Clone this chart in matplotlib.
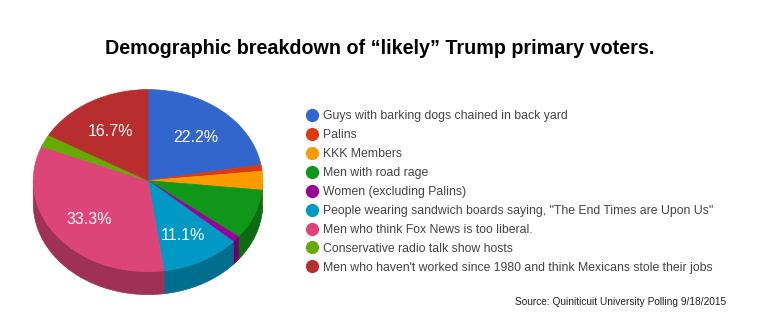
import numpy as np
import matplotlib
matplotlib.use('Agg')
import matplotlib.pyplot as plt
from matplotlib.lines import Line2D
from matplotlib.patches import Polygon
from matplotlib import font_manager, colors as mcolors

# Data (counts; shown as percentages)
categories = [
    'Guys with barking dogs chained in back yard',
    'Palins',
    'KKK Members',
    'Men with road rage',
    'Women (excluding Palins)',
    'People wearing sandwich boards saying, "The End Times are Upon Us"',
    'Men who think Fox News is too liberal.',
    'Conservative radio talk show hosts',
    "Men who haven't worked since 1980 and think Mexicans stole their jobs",
]
values = [20, 1, 3, 8, 1, 10, 30, 2, 15]
slice_colors = ['#3366cc', '#dc3912', '#ff9900', '#109618', '#990099',
                '#0099c6', '#dd4477', '#66aa00', '#b82e2e']
title = 'Demographic breakdown of \u201clikely\u201d Trump primary voters.'
source = 'Source: Quiniticuit University Polling 9/18/2015'

W, H = 773, 325
names = {f.name for f in font_manager.fontManager.ttflist}
narrow = 'Liberation Sans Narrow' if 'Liberation Sans Narrow' in names else 'Liberation Sans'
plt.rcParams['font.family'] = ['Liberation Sans', 'DejaVu Sans']

fig = plt.figure(figsize=(W / 100, H / 100), dpi=100)
ax = fig.add_axes([0, 0, 1, 1])
ax.set_xlim(0, W)
ax.set_ylim(H, 0)
ax.axis('off')

# pie geometry (pixels)
cx, cy, rx, ry, depth = 148, 180.6, 114.7, 91, 23


def darker(c, f=0.72):
    r, g, b = mcolors.to_rgb(c)
    return (r * f, g * f, b * f)


total = float(sum(values))
fracs = np.array(values) / total
ends = np.cumsum(fracs) * 2 * np.pi
starts = ends - fracs * 2 * np.pi


def pt(a):
    # angle clockwise from 12 o'clock
    return cx + rx * np.sin(a), cy - ry * np.cos(a)


# side walls (only the front half, pi/2..3pi/2, is visible)
for s, e, c in zip(starts, ends, slice_colors):
    lo, hi = max(s, np.pi / 2), min(e, 3 * np.pi / 2)
    if hi <= lo:
        continue
    a = np.linspace(lo, hi, 60)
    x, y = pt(a)
    xs = np.concatenate([x, x[::-1]])
    ys = np.concatenate([y, y[::-1] + depth])
    ax.add_patch(Polygon(np.column_stack([xs, ys]), closed=True,
                         facecolor=darker(c), edgecolor=darker(c), lw=0.5))

# top faces
for s, e, c, f in zip(starts, ends, slice_colors, fracs):
    a = np.linspace(s, e, max(int(f * 400), 4))
    x, y = pt(a)
    xs = np.concatenate([[cx], x])
    ys = np.concatenate([[cy], y])
    ax.add_patch(Polygon(np.column_stack([xs, ys]), closed=True,
                         facecolor=c, edgecolor=c, lw=0.5))
    if f >= 0.1:
        m = (s + e) / 2
        lx, ly = cx + 0.65 * rx * np.sin(m), cy - 0.65 * ry * np.cos(m) + 2.5
        ax.text(lx, ly, '%.1f%%' % (f * 100), color='white', fontsize=11.5,
                ha='center', va='center')

# title and source
fig.text(380 / W, 1 - 48 / H, title, fontsize=14.2, fontweight='bold',
         family=narrow, ha='center', va='center', color='black')
fig.text(515 / W, 1 - 302 / H, source, fontsize=7.25, ha='left',
         va='center', color='#222222')

handles = [Line2D([], [], marker='o', linestyle='none', markersize=8.5,
                  markerfacecolor=c, markeredgecolor=c) for c in slice_colors]
fig.legend(handles, categories, loc='upper left',
           bbox_to_anchor=(306 / W, 1 - 110 / H), frameon=False,
           fontsize=8.8, labelcolor='#444444', handlelength=1.0,
           handletextpad=0.39, labelspacing=0.57, borderpad=0,
           borderaxespad=0)

fig.savefig('out.png', dpi=100)
